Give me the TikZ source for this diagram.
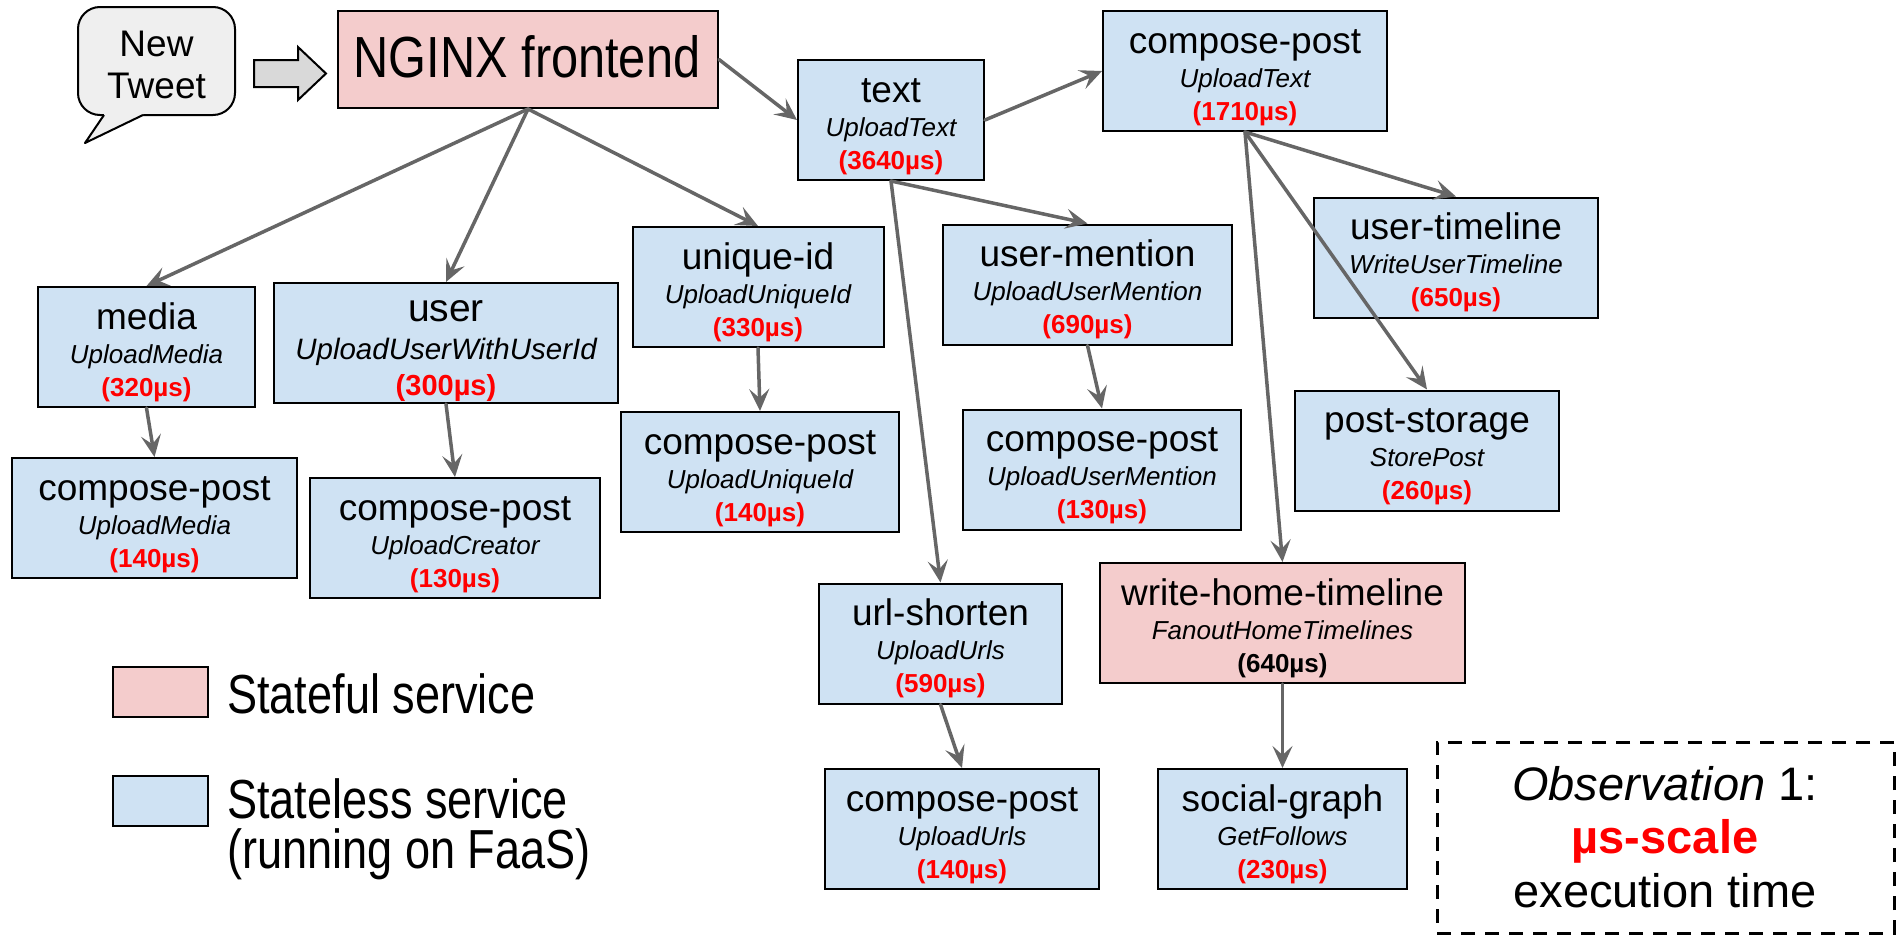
\documentclass[tikz,border=0pt]{standalone}
\usepackage{fontspec}
\setmainfont{Liberation Sans}
\newfontfamily\narrowsans[FakeStretch=0.84]{Liberation Sans}
\newfontfamily\legendsans[FakeStretch=0.82]{Liberation Sans}
\usetikzlibrary{arrows.meta}
\definecolor{boxblue}{HTML}{CFE2F3}
\definecolor{boxpink}{HTML}{F4CCCC}
\definecolor{bubblegray}{HTML}{EFEFEF}
\definecolor{blockgray}{HTML}{D9D9D9}
\definecolor{conngray}{HTML}{666666}
\definecolor{timered}{HTML}{FF0000}
\tikzset{
  svcbox/.style={draw=black, line width=2pt, minimum height=120pt, inner sep=0pt},
  bluebox/.style={svcbox, fill=boxblue},
  pinkbox/.style={svcbox, fill=boxpink},
  ttl/.style={anchor=base, inner sep=0pt, font=\fontsize{37}{44}\selectfont},
  itl/.style={anchor=base, inner sep=0pt, font=\fontsize{26}{31}\selectfont\itshape},
  tim/.style={anchor=base, inner sep=0pt, text=timered, font=\fontsize{26}{31}\selectfont\bfseries},
  conn/.style={draw=conngray, line width=3.5pt, line cap=round, -{Stealth[length=22pt,width=20pt,inset=9pt]}},
  plain/.style={anchor=base, inner sep=0pt},
  legbox/.style={draw=black, line width=2pt, minimum width=95pt, minimum height=50pt, inner sep=0pt},
  legtext/.style={anchor=base west, inner sep=0pt, font=\legendsans\fontsize{55}{62}\selectfont},
}
% name, x, y, width, style, title, italic, time
\newcommand\svcnode[8]{%
  \node[#5, minimum width=#4pt] (#1) at (#2,#3) {};
  \node[ttl] (#1-t) at ([yshift=18pt]#1.center) {#6};
  \node[itl] (#1-i) at ([yshift=-16pt]#1.center) {#7};
  \node[tim] (#1-r) at ([yshift=-49pt]#1.center) {#8};
}
\begin{document}
\begin{tikzpicture}[x=1pt, y=-1pt]
\useasboundingbox (0,0) rectangle (1899,937);

% speech bubble
\draw[fill=bubblegray, line width=2pt, rounded corners=22pt] (78,7) rectangle (235,115);
\fill[bubblegray] (104,112) -- (104,115) -- (85,143) -- (143,115) -- (143,112) -- cycle;
\draw[line width=2pt, line join=round] (104,115) -- (85,143) -- (143,115);
\node[plain, font=\fontsize{37}{44}\selectfont] (nt1) at (156.5,56.5) {New};
\node[plain, font=\fontsize{37}{44}\selectfont] (nt2) at (156.5,98.5) {Tweet};

% block arrow
\draw[fill=blockgray, line width=2pt, line join=miter]
  (254,60) -- (298,60) -- (298,47) -- (326,73.5) -- (298,100) -- (298,87) -- (254,87) -- cycle;

% NGINX
\node[pinkbox, minimum width=380pt, minimum height=97pt] (nginx) at (528,59.5) {};
\node[plain, font=\narrowsans\fontsize{58}{66}\selectfont] (nginx-t) at (527,77) {NGINX frontend};

% services
\svcnode{text}{891}{120}{186}{bluebox}{text}{UploadText}{(3640µs)}
\svcnode{cpText}{1245}{71}{284}{bluebox}{compose-post}{UploadText}{(1710µs)}
\svcnode{media}{146.5}{347}{217}{bluebox}{media}{UploadMedia}{(320µs)}

\node[bluebox, minimum width=344pt] (user) at (446,343) {};
\node[ttl, font=\fontsize{39}{46}\selectfont] (user-t) at ([yshift=22pt]user.center) {user};
\node[itl, font=\fontsize{29.5}{34}\selectfont\itshape] (user-i) at ([yshift=-16pt]user.center) {UploadUserWithUserId};
\node[tim, font=\fontsize{29}{34}\selectfont\bfseries] (user-r) at ([yshift=-52pt]user.center) {(300µs)};

\svcnode{uid}{758}{287}{251}{bluebox}{unique-id}{UploadUniqueId}{(330µs)}
\svcnode{um}{1087.5}{284.5}{289}{bluebox}{user-mention}{UploadUserMention}{(690µs)}
\svcnode{ut}{1456}{257.5}{284}{bluebox}{user-timeline}{WriteUserTimeline}{(650µs)}
\svcnode{cpMedia}{154.5}{518}{285}{bluebox}{compose-post}{UploadMedia}{(140µs)}
\svcnode{cpCreator}{455}{538}{290}{bluebox}{compose-post}{UploadCreator}{(130µs)}
\svcnode{cpUid}{760}{472}{278}{bluebox}{compose-post}{UploadUniqueId}{(140µs)}
\svcnode{cpUm}{1102}{469.5}{278}{bluebox}{compose-post}{UploadUserMention}{(130µs)}
\svcnode{ps}{1427}{450.5}{264}{bluebox}{post-storage}{StorePost}{(260µs)}
\svcnode{url}{940.5}{643.5}{243}{bluebox}{url-shorten}{UploadUrls}{(590µs)}
\svcnode{whtl}{1282.5}{623}{365}{pinkbox}{write-home-timeline}{FanoutHomeTimelines}{\textcolor{black}{(640µs)}}
\svcnode{cpUrls}{962}{829}{274}{bluebox}{compose-post}{UploadUrls}{(140µs)}
\svcnode{social}{1282.5}{829}{249}{bluebox}{social-graph}{GetFollows}{(230µs)}

% legend
\node[legbox, fill=boxpink] (legS) at (160.5,692) {};
\node[legtext] (legS-t) at (227,713) {Stateful service};
\node[legbox, fill=boxblue] (legL) at (160.5,801) {};
\node[legtext] (legL-t1) at (227,818) {Stateless service};
\node[legtext] (legL-t2) at (227,868) {(running on FaaS)};

% observation
\node[draw=black, line width=3pt, dash pattern=on 14pt off 10pt, minimum width=457pt, minimum height=191pt, inner sep=0pt] (obs) at (1665.5,837.5) {};
\node[plain, font=\fontsize{47}{56}\selectfont] (obs1) at (1665,800) {\textit{Observation} 1:};
\node[plain, font=\fontsize{47}{56}\selectfont\bfseries, text=timered] (obs2) at (1665,853) {µs-scale};
\node[plain, font=\fontsize{47}{56}\selectfont] (obs3) at (1665,907) {execution time};

% connectors
\draw[conn] (nginx.east) -- (text.west);
\draw[conn] (text.east) -- (cpText.west);
\draw[conn] (nginx.south) -- (media.north);
\draw[conn] (nginx.south) -- (user.north);
\draw[conn] (nginx.south) -- (uid.north);
\draw[conn] (text.south) -- (um.north);
\draw[conn] (text.south) -- (url.north);
\draw[conn] (cpText.south) -- (ut.north);
\draw[conn] (cpText.south) -- (ps.north);
\draw[conn] (cpText.south) -- (whtl.north);
\draw[conn] (media.south) -- (cpMedia.north);
\draw[conn] (user.south) -- (cpCreator.north);
\draw[conn] (uid.south) -- (cpUid.north);
\draw[conn] (um.south) -- (cpUm.north);
\draw[conn] (url.south) -- (cpUrls.north);
\draw[conn] (whtl.south) -- (social.north);
\end{tikzpicture}
\end{document}
